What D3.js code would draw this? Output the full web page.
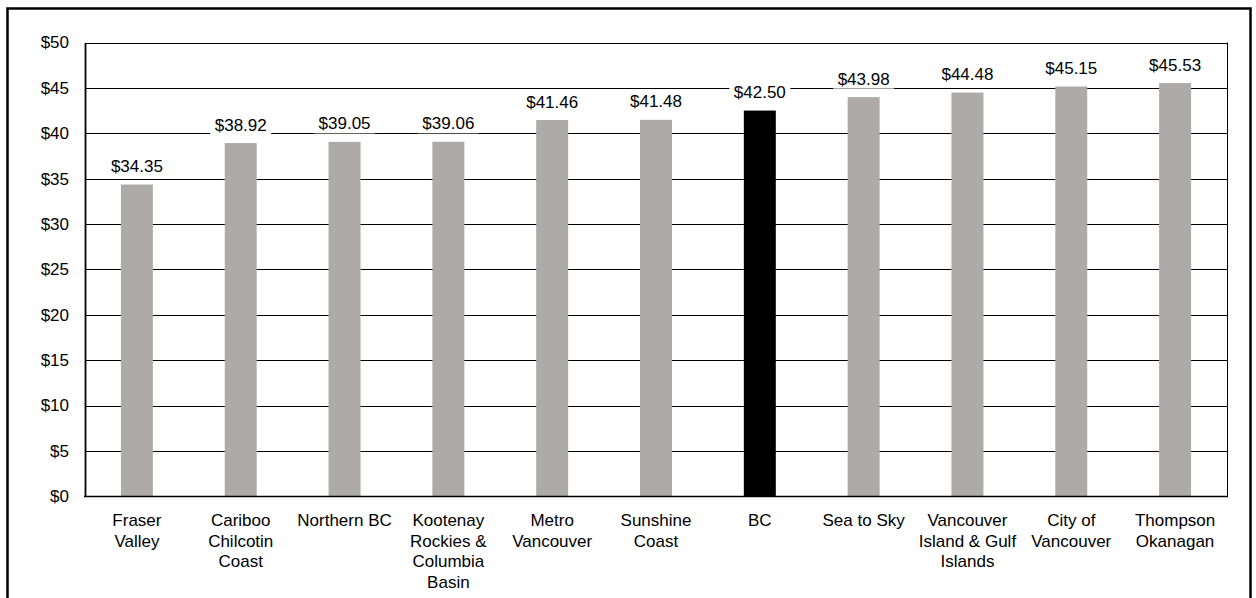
<!DOCTYPE html>
<html>
<head>
<meta charset="utf-8">
<script src="https://cdn.jsdelivr.net/npm/d3@7/dist/d3.min.js"></script>
<style>
  html, body { margin: 0; padding: 0; background: #fff; }
  svg { display: block; font-family: "Liberation Sans", Arial, sans-serif; }
</style>
</head>
<body>
<svg id="chart" width="1256" height="598"></svg>
<script>
// Regions, ordered by average value
const regions = [
  ["Fraser", "Valley"],
  ["Cariboo", "Chilcotin", "Coast"],
  ["Northern BC"],
  ["Kootenay", "Rockies &", "Columbia", "Basin"],
  ["Metro", "Vancouver"],
  ["Sunshine", "Coast"],
  ["BC"],
  ["Sea to Sky"],
  ["Vancouver", "Island & Gulf", "Islands"],
  ["City of", "Vancouver"],
  ["Thompson", "Okanagan"]
];
const values = [34.35, 38.92, 39.05, 39.06, 41.46, 41.48, 42.50, 43.98, 44.48, 45.15, 45.53];
const highlighted = ["BC"];
const yTicks = [0, 5, 10, 15, 20, 25, 30, 35, 40, 45, 50];

const svg = d3.select("#chart");
const plot = { left: 85, right: 1227, top: 42.5, bottom: 496.3 };
const fontSize = 17;

const keys = regions.map(r => r.join(" "));
const x = d3.scaleBand()
  .domain(keys)
  .range([plot.left, plot.right])
  .paddingInner(0.692)
  .paddingOuter(0.346);
const y = d3.scaleLinear().domain([0, 50]).range([plot.bottom, plot.top]);

// outer frame
svg.append("rect")
  .attr("x", 7.5).attr("y", 8.5)
  .attr("width", 1243).attr("height", 620)
  .attr("fill", "none").attr("stroke", "#000").attr("stroke-width", 2.5);

// gridlines
svg.append("g")
  .selectAll("line")
  .data(yTicks)
  .join("line")
  .attr("x1", plot.left).attr("x2", plot.right)
  .attr("y1", d => Math.round(y(d)) + 0.5).attr("y2", d => Math.round(y(d)) + 0.5)
  .attr("stroke", "#000").attr("stroke-width", 1);

// right edge of plot area
svg.append("line")
  .attr("x1", plot.right + 0.5).attr("x2", plot.right + 0.5)
  .attr("y1", plot.top).attr("y2", plot.bottom)
  .attr("stroke", "#000").attr("stroke-width", 1);

// y axis
const yAxis = d3.axisLeft(y).tickValues(yTicks).tickSize(0).tickPadding(16)
  .tickFormat(d => "$" + d);
const gy = svg.append("g").attr("transform", `translate(${plot.left},0)`).call(yAxis);
gy.select(".domain").attr("stroke", "#000").attr("stroke-width", 1.8);
gy.selectAll("text").attr("font-size", fontSize).attr("fill", "#000")
  .attr("font-family", "'Liberation Sans', Arial, sans-serif");

// bars
svg.append("g")
  .selectAll("rect")
  .data(values)
  .join("rect")
  .attr("x", (d, i) => x(keys[i]))
  .attr("width", x.bandwidth())
  .attr("y", d => y(d))
  .attr("height", d => y(0) - y(d))
  .attr("fill", (d, i) => highlighted.includes(keys[i]) ? "#000" : "#AEAAAA");

// bottom axis line
svg.append("line")
  .attr("x1", plot.left - 1).attr("x2", plot.right + 1)
  .attr("y1", Math.round(y(0)) + 0.5).attr("y2", Math.round(y(0)) + 0.5)
  .attr("stroke", "#000").attr("stroke-width", 1.6);

// value labels on white boxes
const labels = svg.append("g")
  .selectAll("g")
  .data(values)
  .join("g")
  .attr("transform", (d, i) => `translate(${x(keys[i]) + x.bandwidth() / 2},${y(d) - 12.5})`);
const labelText = d => "$" + d.toFixed(2);
labels.append("rect")
  .attr("x", -30.5).attr("y", -16)
  .attr("width", 61).attr("height", 20)
  .attr("fill", "#fff");
labels.append("text")
  .attr("text-anchor", "middle")
  .attr("font-size", fontSize)
  .attr("fill", "#000")
  .text(labelText);

// category labels
const cats = svg.append("g")
  .selectAll("text")
  .data(regions)
  .join("text")
  .attr("text-anchor", "middle")
  .attr("font-size", fontSize)
  .attr("fill", "#000")
  .attr("x", (d, i) => x(keys[i]) + x.bandwidth() / 2)
  .attr("y", 526);
cats.selectAll("tspan")
  .data(d => d)
  .join("tspan")
  .attr("x", function () { return d3.select(this.parentNode).attr("x"); })
  .attr("dy", (d, j) => j === 0 ? 0 : 20.7)
  .text(d => d);
</script>
</body>
</html>
